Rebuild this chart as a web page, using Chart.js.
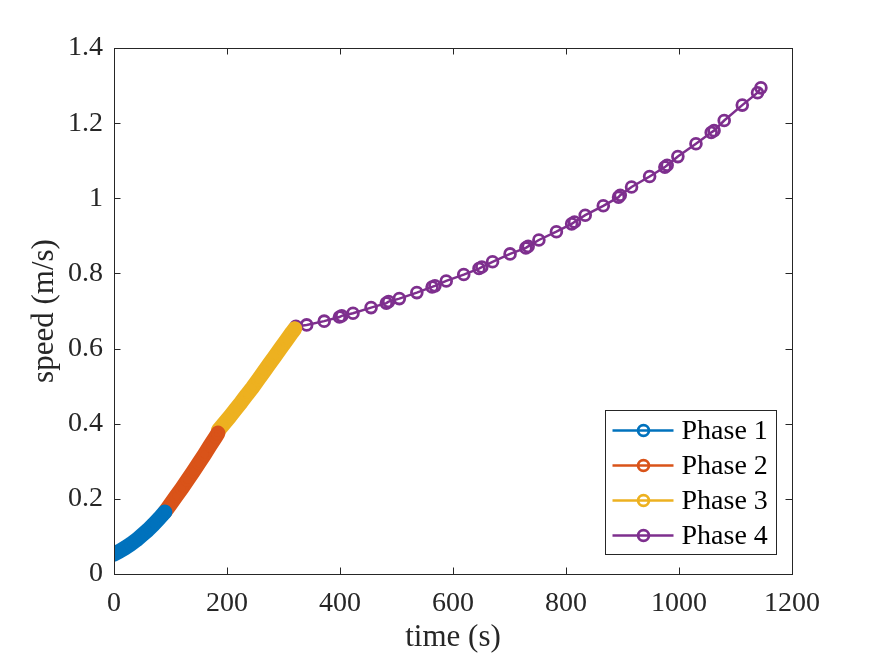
<!DOCTYPE html>
<html>
<head>
<meta charset="utf-8">
<script src="https://cdn.jsdelivr.net/npm/chart.js@4.4.1/dist/chart.umd.min.js"></script>
<style>
  html, body { margin: 0; padding: 0; background: #ffffff; }
  #wrap { width: 875px; height: 656px; }
</style>
</head>
<body>
<div id="wrap"><canvas id="c" width="875" height="656"></canvas></div>
<script>
// ---- data ----
const seriesNames = ['Phase 1', 'Phase 2', 'Phase 3', 'Phase 4'];
const seriesColors = ['#0072BD', '#D95319', '#EDB120', '#7E2F8E'];

const phase1Time  = [0, 10, 20, 30, 40, 50, 60, 70, 80, 90];
const phase1Speed = [0.053, 0.061, 0.070, 0.080, 0.091, 0.104, 0.117, 0.132, 0.148, 0.165];

const phase2Time  = [90, 100, 110, 120, 130, 140, 150, 160, 170, 180, 184];
const phase2Speed = [0.165, 0.186, 0.207, 0.228, 0.250, 0.272, 0.295, 0.318, 0.342, 0.365, 0.375];

const phase3Time  = [185, 195, 205, 215, 225, 235, 245, 255, 265, 275, 285, 295, 305, 315, 320];
const phase3Speed = [0.383, 0.401, 0.419, 0.438, 0.457, 0.477, 0.496, 0.517, 0.538, 0.559, 0.580, 0.601, 0.622, 0.643, 0.653];

const phase4Time  = [322, 341, 372, 399, 403, 423, 455, 482, 486, 505, 536, 563, 568, 588, 619,
                     646, 651, 670, 701, 729, 733, 752, 783, 810, 815, 834, 866, 893, 896, 916,
                     948, 975, 979, 998, 1030, 1057, 1062, 1080, 1112, 1139, 1145];
const phase4Speed = [0.659, 0.663, 0.673, 0.684, 0.687, 0.694, 0.709, 0.721, 0.725, 0.733, 0.749, 0.764, 0.767, 0.780, 0.797,
                     0.813, 0.817, 0.831, 0.852, 0.868, 0.872, 0.889, 0.911, 0.932, 0.937, 0.955, 0.980, 1.003, 1.008, 1.030,
                     1.058, 1.083, 1.088, 1.111, 1.145, 1.175, 1.180, 1.207, 1.248, 1.281, 1.294];

const xTicks = [0, 200, 400, 600, 800, 1000, 1200];
const yTicks = [0, 0.2, 0.4, 0.6, 0.8, 1, 1.2, 1.4];
const xTitle = 'time (s)';
const yTitle = 'speed (m/s)';

// ---- build datasets ----
function pts(t, v) { return t.map((x, i) => ({ x: x, y: v[i] })); }
const FONT = "'Liberation Serif', 'Times New Roman', serif";
const AXIS = '#262626';
const MR = 5.4, MW = 2.8, LW = 2.5;

const denseStyle = (c) => ({
  borderColor: c, backgroundColor: 'rgba(0,0,0,0)', borderWidth: 15,
  borderCapStyle: 'round', borderJoinStyle: 'round',
  pointRadius: MR, pointBorderWidth: MW, pointBorderColor: c, pointBackgroundColor: 'rgba(0,0,0,0)',
  showLine: true, tension: 0
});

const datasets = [
  Object.assign({ label: seriesNames[0], data: pts(phase1Time, phase1Speed) }, denseStyle(seriesColors[0])),
  Object.assign({ label: seriesNames[1], data: pts(phase2Time, phase2Speed) }, denseStyle(seriesColors[1])),
  Object.assign({ label: seriesNames[2], data: pts(phase3Time, phase3Speed) }, denseStyle(seriesColors[2])),
  {
    label: seriesNames[3], data: pts(phase4Time, phase4Speed),
    borderColor: seriesColors[3], backgroundColor: 'rgba(0,0,0,0)', borderWidth: LW,
    pointRadius: MR, pointBorderWidth: MW, pointBorderColor: seriesColors[3],
    pointBackgroundColor: 'rgba(0,0,0,0)', showLine: true, tension: 0
  }
];

// box + inward ticks on all four sides
const boxPlugin = {
  id: 'boxTicks',
  afterDatasetsDraw(chart) {
    const { ctx, chartArea: a, scales } = chart;
    ctx.save();
    ctx.strokeStyle = AXIS;
    ctx.lineWidth = 1;
    const L = 6.5;
    ctx.beginPath();
    scales.x.ticks.forEach(t => {
      const px = Math.round(scales.x.getPixelForValue(t.value)) + 0.5;
      ctx.moveTo(px, a.bottom); ctx.lineTo(px, a.bottom - L);
      ctx.moveTo(px, a.top); ctx.lineTo(px, a.top + L);
    });
    scales.y.ticks.forEach(t => {
      const py = Math.round(scales.y.getPixelForValue(t.value)) + 0.5;
      ctx.moveTo(a.left, py); ctx.lineTo(a.left + L, py);
      ctx.moveTo(a.right, py); ctx.lineTo(a.right - L, py);
    });
    ctx.stroke();
    ctx.strokeRect(Math.round(a.left) + 0.5, Math.round(a.top) + 0.5,
                   Math.round(a.right - a.left), Math.round(a.bottom - a.top));
    ctx.restore();
  }
};

// MATLAB-style legend inside the lower-right of the axes
const legendPlugin = {
  id: 'innerLegend',
  afterDraw(chart) {
    const { ctx, chartArea: a } = chart;
    const boxW = 171, boxH = 144;
    const bx = Math.round(a.right - 16 - boxW) + 0.5, by = Math.round(a.bottom - 20 - boxH) + 0.5;
    ctx.save();
    ctx.fillStyle = '#ffffff';
    ctx.fillRect(bx, by, boxW, boxH);
    ctx.strokeStyle = AXIS;
    ctx.lineWidth = 1;
    ctx.strokeRect(bx, by, boxW, boxH);
    const rowH = 35;
    chart.data.datasets.forEach((ds, i) => {
      const cy = by + 20 + i * rowH;
      const c = seriesColors[i];
      ctx.strokeStyle = c;
      ctx.lineWidth = LW;
      ctx.beginPath();
      ctx.moveTo(bx + 7, cy); ctx.lineTo(bx + 68, cy);
      ctx.stroke();
      ctx.lineWidth = MW;
      ctx.beginPath();
      ctx.arc(bx + 38, cy, MR, 0, Math.PI * 2);
      ctx.stroke();
      ctx.fillStyle = '#000000';
      ctx.font = "28px " + FONT;
      ctx.textAlign = 'left';
      ctx.textBaseline = 'middle';
      ctx.fillText(ds.label, bx + 76, cy + 1);
    });
    ctx.restore();
  }
};

new Chart(document.getElementById('c'), {
  type: 'scatter',
  data: { datasets: datasets },
  options: {
    responsive: false,
    animation: false,
    devicePixelRatio: 1,
    layout: { padding: { left: 0, right: 83, top: 48, bottom: 0 } },
    plugins: { legend: { display: false }, tooltip: { enabled: false } },
    scales: {
      x: {
        type: 'linear', min: 0, max: 1200,
        afterBuildTicks: (s) => { s.ticks = xTicks.map(v => ({ value: v })); },
        afterFit: (s) => { s.height = 82; },
        grid: { display: false, drawTicks: false },
        border: { display: false },
        ticks: { color: AXIS, font: { family: FONT, size: 28 }, padding: 13, maxRotation: 0,
                 callback: (v) => String(v) },
        title: { display: true, text: xTitle, color: AXIS, font: { family: FONT, size: 31 },
                 padding: { top: 0, bottom: 0 } }
      },
      y: {
        type: 'linear', min: 0, max: 1.4,
        afterBuildTicks: (s) => { s.ticks = yTicks.map(v => ({ value: v })); },
        afterFit: (s) => { s.width = 114; },
        grid: { display: false, drawTicks: false },
        border: { display: false },
        ticks: { color: AXIS, font: { family: FONT, size: 28 }, padding: 11,
                 callback: (v) => String(Math.round(v * 10) / 10) },
        title: { display: true, text: yTitle, color: AXIS, font: { family: FONT, size: 31 },
                 padding: { top: 26, bottom: 0 } }
      }
    }
  },
  plugins: [boxPlugin, legendPlugin]
});
</script>
</body>
</html>
